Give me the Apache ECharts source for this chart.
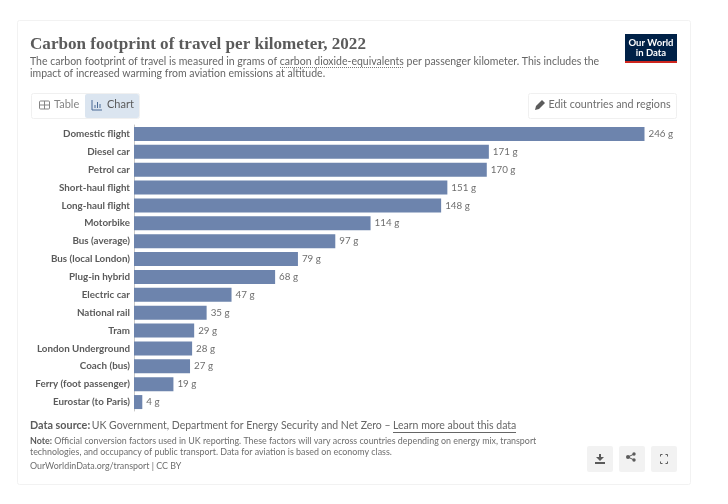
<!DOCTYPE html>
<html>
<head>
<meta charset="utf-8">
<style>
html, body { margin: 0; padding: 0; background: #fff; }
#main { width: 728px; height: 504px; }
</style>
<script src="https://cdn.jsdelivr.net/npm/echarts@6/dist/echarts.min.js"></script>
</head>
<body>
<div id="main"></div>
<script>
var categories = ['Domestic flight', 'Diesel car', 'Petrol car', 'Short-haul flight', 'Long-haul flight',
    'Motorbike', 'Bus (average)', 'Bus (local London)', 'Plug-in hybrid', 'Electric car',
    'National rail', 'Tram', 'London Underground', 'Coach (bus)', 'Ferry (foot passenger)', 'Eurostar (to Paris)'];
var footprint = [246, 171, 170, 151, 148, 114, 97, 79, 68, 47, 35, 29, 28, 27, 19, 4];

var GREY = '#5b5b5b';
var FONT = 'Lato';

function text(x, y, str, size, color, weight, family, align) {
    return {
        type: 'text', x: x, y: y, silent: true,
        style: {
            text: str, fontSize: size, fill: color, fontWeight: weight || 'normal',
            fontFamily: family || FONT, textAlign: align || 'left', textVerticalAlign: 'middle'
        }
    };
}
function box(x, y, w, h, fill, stroke, r) {
    return {
        type: 'rect', silent: true,
        shape: { x: x, y: y, width: w, height: h, r: r || 0 },
        style: { fill: fill, stroke: stroke || null, lineWidth: stroke ? 1 : 0 }
    };
}
function line(x1, y1, x2, y2, color, width, dash) {
    return {
        type: 'line', silent: true,
        shape: { x1: x1, y1: y1, x2: x2, y2: y2 },
        style: { stroke: color, lineWidth: width || 1, lineDash: dash || null }
    };
}
function poly(points, fill) {
    return { type: 'polygon', silent: true, shape: { points: points }, style: { fill: fill } };
}

var chrome = [
    box(17.5, 20.5, 673, 464, '#fff', '#f2f2f2', 2),

    // header
    text(30, 44.5, 'Carbon footprint of travel per kilometer, 2022', 17.1, '#5b5b5b', 'bold', 'Liberation Serif'),
    text(30, 62, 'The carbon footprint of travel is measured in grams of carbon dioxide-equivalents per passenger kilometer. This includes the', 10.5, '#666'),
    text(30, 74, 'impact of increased warming from aviation emissions at altitude.', 10.5, '#666'),
    line(280, 67.5, 404, 67.5, '#777', 1, [1, 1]),

    // logo
    box(625, 34, 52, 29, '#002147'),
    box(625, 61, 52, 2, '#ce261e'),
    text(651, 43, 'Our World', 9.5, '#fff', 'bold', FONT, 'center'),
    text(651, 52.5, 'in Data', 9.5, '#fff', 'bold', FONT, 'center'),

    // table / chart tabs
    box(31.5, 93.5, 108, 25, '#fff', '#f0f0f0', 2),
    box(85, 94, 54, 24, '#dbe5f0', null, 2),
    box(39.5, 101, 10, 8, 'none', '#858585', 1),
    line(39.5, 105, 49.5, 105, '#858585', 1),
    line(44.5, 101, 44.5, 109, '#858585', 1),
    text(54, 104.5, 'Table', 11, '#858585'),
    line(92, 100, 92, 110, '#4a6b96', 1),
    line(92, 110, 102, 110, '#4a6b96', 1),
    line(95, 108, 95, 105, '#4a6b96', 1),
    line(97.5, 108, 97.5, 102, '#4a6b96', 1),
    line(100, 108, 100, 104, '#4a6b96', 1),
    text(107, 104.5, 'Chart', 11, '#5b5b5b'),

    // edit button
    box(528.5, 93.5, 148, 25, '#fff', '#f0f0f0', 2),
    poly([[535, 110], [536, 106], [542, 100], [545, 103], [539, 109]], '#5b5b5b'),
    text(548.5, 104.5, 'Edit countries and regions', 10.75, '#6e6e6e'),

    // footer
    text(30, 426, 'Data source:', 10.8, '#5b5b5b', 'bold'),
    text(91.7, 426, 'UK Government, Department for Energy Security and Net Zero \u2013', 10.5, '#666'),
    text(393, 426, 'Learn more about this data', 10.5, '#666'),
    line(393, 432.5, 516, 432.5, '#666', 1),
    text(30, 441.5, 'Note:', 8.9, '#5b5b5b', 'bold'),
    text(54.3, 441.5, 'Official conversion factors used in UK reporting. These factors will vary across countries depending on energy mix, transport', 8.9, '#6e6e6e'),
    text(30, 452.5, 'technologies, and occupancy of public transport. Data for aviation is based on economy class.', 8.9, '#6e6e6e'),
    text(30, 466, 'OurWorldinData.org/transport | CC BY', 8.9, '#6e6e6e'),

    // download, share, fullscreen buttons
    box(587, 446, 26, 26, '#f2f2f2', null, 2),
    box(619, 446, 26, 26, '#f2f2f2', null, 2),
    box(651, 446, 26, 26, '#f2f2f2', null, 2),
    box(595, 462, 10, 2, '#5b5b5b'),
    box(599, 454, 2, 5, '#5b5b5b'),
    poly([[596, 457], [604, 457], [600, 461]], '#5b5b5b'),
    { type: 'circle', silent: true, shape: { cx: 628, cy: 457, r: 2 }, style: { fill: '#5b5b5b' } },
    { type: 'circle', silent: true, shape: { cx: 634, cy: 454, r: 1.7 }, style: { fill: '#5b5b5b' } },
    { type: 'circle', silent: true, shape: { cx: 634, cy: 460, r: 1.7 }, style: { fill: '#5b5b5b' } },
    line(628, 457, 634, 454, '#5b5b5b', 1),
    line(628, 457, 634, 460, '#5b5b5b', 1),
    line(660.5, 454.5, 662.5, 454.5, '#5b5b5b', 1), line(660.5, 454.5, 660.5, 456.5, '#5b5b5b', 1),
    line(665.5, 454.5, 667.5, 454.5, '#5b5b5b', 1), line(667.5, 454.5, 667.5, 456.5, '#5b5b5b', 1),
    line(660.5, 463.5, 662.5, 463.5, '#5b5b5b', 1), line(660.5, 461.5, 660.5, 463.5, '#5b5b5b', 1),
    line(665.5, 463.5, 667.5, 463.5, '#5b5b5b', 1), line(667.5, 461.5, 667.5, 463.5, '#5b5b5b', 1)
];

var myChart = echarts.init(document.getElementById('main'), null, { renderer: 'canvas' });
var option = {
    animation: false,
    backgroundColor: '#fff',
    textStyle: { fontFamily: FONT },
    grid: { left: 134, top: 125, width: 510.5, height: 286, containLabel: false },
    xAxis: {
        type: 'value', min: 0, max: 246,
        axisLine: { show: false }, axisTick: { show: false },
        axisLabel: { show: false }, splitLine: { show: false }
    },
    yAxis: {
        type: 'category',
        inverse: true,
        data: categories,
        axisLine: { show: true, lineStyle: { color: '#c8c8c8', width: 1 } },
        axisTick: { show: false },
        axisLabel: { color: GREY, fontSize: 9.8, fontWeight: 'bold', fontFamily: FONT, margin: 4 }
    },
    series: [{
        type: 'bar',
        data: footprint,
        barWidth: 14,
        itemStyle: { color: '#6d84ad' },
        label: {
            show: true, position: 'right', distance: 4,
            formatter: '{c} g', color: '#6e6e6e', fontSize: 9.8, fontFamily: FONT
        }
    }],
    graphic: { elements: chrome }
};
myChart.setOption(option);
</script>
</body>
</html>
